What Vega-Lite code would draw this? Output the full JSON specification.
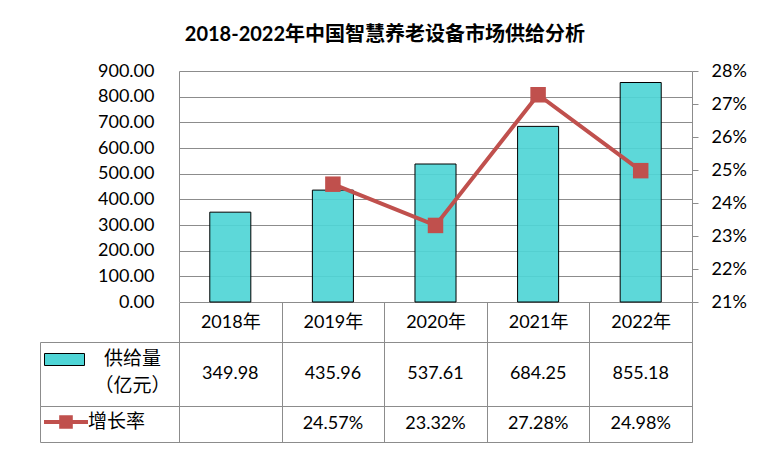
{
  "$schema": "https://vega.github.io/schema/vega-lite/v6.json",
  "padding": {"left": 39, "top": 25, "right": 0, "bottom": 0},
  "title": {"text": "2018-2022年中国智慧养老设备市场供给分析", "fontSize": 20, "fontWeight": "bold", "font": "Lato, 'Noto Sans CJK SC'", "color": "#000000", "anchor": "middle", "offset": 17, "dx": -8},
  "datasets": {
    "d": [
      {"year": "2018年", "supply": 349.98, "growth": null},
      {"year": "2019年", "supply": 435.96, "growth": 0.2457},
      {"year": "2020年", "supply": 537.61, "growth": 0.2332},
      {"year": "2021年", "supply": 684.25, "growth": 0.2728},
      {"year": "2022年", "supply": 855.18, "growth": 0.2498}
    ]
  },
  "spacing": 0,
  "bounds": "flush",
  "resolve": {"scale": {"color": "independent"}, "legend": {"color": "independent"}},
  "config": {
    "font": "Lato, 'Noto Sans CJK SC', sans-serif",
    "view": {"stroke": "#8c8c8c", "strokeWidth": 1},
    "axis": {"labelFont": "Lato, 'Noto Sans CJK SC'", "labelFontSize": 18, "labelColor": "#000000", "domainColor": "#8c8c8c", "tickColor": "#8c8c8c", "gridColor": "#8c8c8c", "gridOpacity": 1, "labelOverlap": false},
    "legend": {"padding": 0, "labelFont": "'Noto Sans CJK SC'", "labelFontSize": 19, "labelColor": "#000000", "labelLimit": 300, "title": null}
  },
  "vconcat": [
    {
      "width": 652,
      "height": 271,
      "view": {"stroke": null},
      "data": {"name": "d"},
      "encoding": {
        "x": {
          "field": "year", "type": "nominal",
          "scale": {"domain": ["2018年", "2019年", "2020年", "2021年", "2022年"], "paddingInner": 0, "paddingOuter": 0.6774, "align": 1},
          "axis": {"orient": "bottom", "title": null, "domain": false, "grid": false, "ticks": true, "tickBand": "extent", "tickSize": -40, "labelPadding": 20, "labelBaseline": "middle", "labelAngle": 0}
        }
      },
      "layer": [
        {
          "mark": {"type": "bar", "width": {"band": 0.4}, "fill": "#4FD5D6", "fillOpacity": 0.92, "stroke": "#000000", "strokeWidth": 1},
          "encoding": {
            "y": {
              "field": "supply", "type": "quantitative",
              "scale": {"domain": [0, 900], "range": [231, 0], "nice": false},
              "axis": {"orient": "left", "offset": -139, "title": null, "values": [0, 100, 200, 300, 400, 500, 600, 700, 800, 900], "format": ".2f", "grid": false, "domain": true, "ticks": true, "tickSize": -513, "labelPadding": 538, "zindex": 0}
            }
          }
        },
        {
          "transform": [{"filter": "datum.growth != null"}],
          "encoding": {
            "y": {
              "field": "growth", "type": "quantitative",
              "scale": {"domain": [0.21, 0.28], "range": [231, 0], "nice": false, "zero": false},
              "axis": {"orient": "right", "title": null, "values": [0.21, 0.22, 0.23, 0.24, 0.25, 0.26, 0.27, 0.28], "format": ".0%", "grid": false, "domain": true, "ticks": true, "tickSize": 6, "labelPadding": 13}
            }
          },
          "layer": [
            {"mark": {"type": "line", "color": "#C0504D", "strokeWidth": 4}},
            {"mark": {"type": "point", "shape": "square", "filled": true, "size": 240, "color": "#C0504D", "opacity": 1}}
          ]
        }
      ],
      "resolve": {"scale": {"y": "independent"}}
    },
    {
      "width": 652,
      "height": 64,
      "data": {"name": "d"},
      "encoding": {
        "x": {
          "field": "year", "type": "nominal",
          "scale": {"domain": ["2018年", "2019年", "2020年", "2021年", "2022年"], "paddingInner": 0, "paddingOuter": 0.6774, "align": 1},
          "axis": {"title": null, "labels": false, "ticks": false, "domain": false, "grid": true, "tickBand": "extent"}
        }
      },
      "layer": [
        {
          "mark": {"type": "text", "fontSize": 18, "color": "#000000"},
          "encoding": {"text": {"field": "supply", "type": "quantitative", "format": ".2f"}}
        },
        {
          "mark": {"type": "point", "filled": true, "size": 0, "strokeWidth": 0, "opacity": 1},
          "encoding": {
            "y": {
              "datum": "供给量（亿元）", "type": "nominal",
              "scale": {"paddingInner": 0, "paddingOuter": 0},
              "axis": {"orient": "left", "title": null, "domain": false, "ticks": false, "grid": false, "labelExpr": "['供给量', '（亿元）']", "labelFont": "'Noto Sans CJK SC'", "labelFontSize": 19, "labelAlign": "center", "labelBaseline": "middle", "labelPadding": -92, "labelLineHeight": 27, "labelOffset": -16, "labelLimit": 300}
            },
            "color": {
              "datum": "供给量（亿元）",
              "scale": {"range": ["#4FD5D6"]},
              "legend": {
                "orient": "top-left", "offset": 7, "symbolType": "M-2,-0.6H2V0.6H-2Z", "symbolSize": 400, "symbolOffset": 7,
                "symbolStrokeColor": "#000000", "symbolStrokeWidth": 1, "symbolFillColor": "#4FD5D6", "symbolOpacity": 1,
                "labelExpr": "''"
              }
            }
          }
        }
      ]
    },
    {
      "width": 652,
      "height": 36,
      "data": {"name": "d"},
      "encoding": {
        "x": {
          "field": "year", "type": "nominal",
          "scale": {"domain": ["2018年", "2019年", "2020年", "2021年", "2022年"], "paddingInner": 0, "paddingOuter": 0.6774, "align": 1},
          "axis": {"title": null, "labels": false, "ticks": false, "domain": false, "grid": true, "tickBand": "extent"}
        }
      },
      "layer": [
        {
          "transform": [{"filter": "datum.growth != null"}],
          "mark": {"type": "text", "fontSize": 18, "color": "#000000"},
          "encoding": {"text": {"field": "growth", "type": "quantitative", "format": ".2%"}}
        },
        {
          "mark": {"type": "point", "filled": true, "size": 0, "strokeWidth": 0, "opacity": 1},
          "encoding": {
            "color": {
              "datum": "增长率",
              "scale": {"range": ["#C0504D"]},
              "legend": {
                "orient": "top-left", "offset": 6, "symbolType": "M-2.2,-0.2H2.2V0.2H-2.2Z M-0.68,-0.68H0.68V0.68H-0.68Z", "symbolSize": 400, "symbolOffset": 10,
                "symbolStrokeWidth": 0, "symbolOpacity": 1,
                "labelAlign": "left", "labelOffset": 12
              }
            }
          }
        }
      ]
    }
  ]
}
